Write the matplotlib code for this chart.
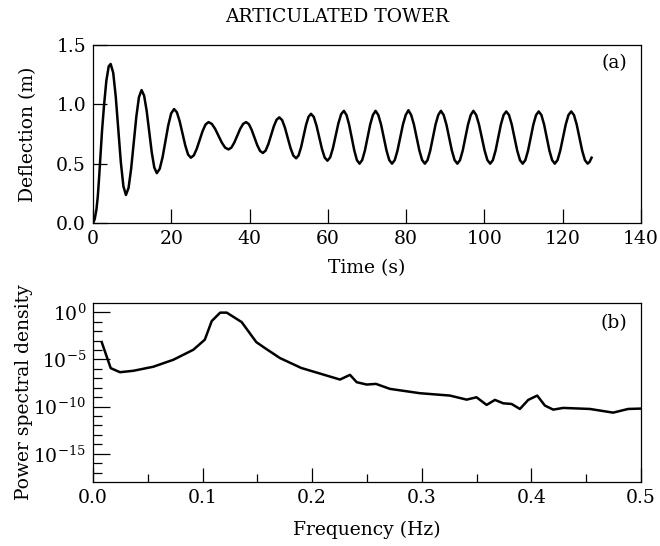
import numpy as np
import matplotlib
matplotlib.use('Agg')
import matplotlib.pyplot as plt

plt.rcParams['font.family'] = 'serif'
plt.rcParams['font.serif'] = ['DejaVu Serif']
plt.rcParams['mathtext.fontset'] = 'dejavuserif'

# (a) deflection time history
time_s = [
    0, 0.4, 0.85, 1.2, 1.5, 1.8, 2.3, 2.8, 3.4, 4.0,
    4.5, 5.15, 5.8, 6.45, 7.1, 7.75,
    8.4, 9.07, 9.73, 10.4, 11.07, 11.73,
    12.4, 13.05, 13.7, 14.35, 15.0, 15.65,
    16.3, 17.03, 17.77, 18.5, 19.23, 19.97,
    20.7, 21.42, 22.13, 22.85, 23.57, 24.28,
    25.0, 25.75, 26.5, 27.25, 28.0, 28.75,
    29.5, 30.35, 31.2, 32.05, 32.9, 33.75,
    34.6, 35.35, 36.1, 36.85, 37.6, 38.35,
    39.1, 39.82, 40.53, 41.25, 41.97, 42.68,
    43.4, 44.1, 44.8, 45.5, 46.2, 46.9,
    47.6, 48.32, 49.03, 49.75, 50.47, 51.18,
    51.9, 52.53, 53.17, 53.8, 54.43, 55.07,
    55.7, 56.4, 57.1, 57.8, 58.5, 59.2,
    59.9, 60.6, 61.3, 62.0, 62.7, 63.4,
    64.1, 64.77, 65.43, 66.1, 66.77, 67.43,
    68.1, 68.78, 69.47, 70.15, 70.83, 71.52,
    72.2, 72.9, 73.6, 74.3, 75.0, 75.7,
    76.4, 77.1, 77.8, 78.5, 79.2, 79.9,
    80.6, 81.3, 82.0, 82.7, 83.4, 84.1,
    84.8, 85.48, 86.17, 86.85, 87.53, 88.22,
    88.9, 89.6, 90.3, 91.0, 91.7, 92.4,
    93.1, 93.78, 94.47, 95.15, 95.83, 96.52,
    97.2, 97.92, 98.63, 99.35, 100.07, 100.78,
    101.5, 102.18, 102.87, 103.55, 104.23, 104.92,
    105.6, 106.3, 107.0, 107.7, 108.4, 109.1,
    109.8, 110.48, 111.17, 111.85, 112.53, 113.22,
    113.9, 114.58, 115.27, 115.95, 116.63, 117.32,
    118.0, 118.7, 119.4, 120.1, 120.8, 121.5,
    122.2, 122.9, 123.6, 124.3, 125.0, 125.7,
    126.4, 126.9, 127.4]

deflection = [
    0.0, 0.03, 0.11, 0.22, 0.36, 0.52, 0.78, 0.99, 1.2, 1.32,
    1.34, 1.266, 1.064, 0.788, 0.512, 0.31,
    0.236, 0.295, 0.457, 0.678, 0.899, 1.061,
    1.12, 1.073, 0.945, 0.77, 0.595, 0.467,
    0.42, 0.456, 0.555, 0.69, 0.825, 0.924,
    0.96, 0.933, 0.858, 0.755, 0.653, 0.577,
    0.55, 0.57, 0.625, 0.70, 0.775, 0.83,
    0.85, 0.835, 0.793, 0.735, 0.678, 0.635,
    0.62, 0.635, 0.678, 0.735, 0.793, 0.835,
    0.85, 0.833, 0.785, 0.72, 0.655, 0.607,
    0.59, 0.61, 0.665, 0.74, 0.815, 0.87,
    0.89, 0.867, 0.804, 0.718, 0.631, 0.568,
    0.545, 0.57, 0.639, 0.733, 0.826, 0.895,
    0.92, 0.894, 0.821, 0.723, 0.624, 0.551,
    0.525, 0.553, 0.63, 0.735, 0.84, 0.917,
    0.945, 0.91, 0.83, 0.72, 0.61, 0.53,
    0.50, 0.53, 0.61, 0.72, 0.83, 0.91,
    0.945, 0.91, 0.83, 0.72, 0.61, 0.53,
    0.50, 0.53, 0.61, 0.72, 0.83, 0.91,
    0.95, 0.91, 0.83, 0.72, 0.61, 0.53,
    0.50, 0.53, 0.61, 0.72, 0.83, 0.91,
    0.945, 0.91, 0.83, 0.72, 0.61, 0.53,
    0.50, 0.53, 0.61, 0.72, 0.83, 0.91,
    0.945, 0.91, 0.83, 0.72, 0.61, 0.53,
    0.50, 0.53, 0.61, 0.72, 0.83, 0.91,
    0.94, 0.91, 0.83, 0.72, 0.61, 0.53,
    0.50, 0.53, 0.61, 0.72, 0.83, 0.91,
    0.94, 0.91, 0.83, 0.72, 0.61, 0.53,
    0.50, 0.53, 0.61, 0.72, 0.83, 0.91,
    0.94, 0.91, 0.83, 0.72, 0.61, 0.53,
    0.50, 0.515, 0.55]

# (b) power spectral density, stored as log10 values
freq_hz = [0.0079, 0.0161, 0.0246, 0.0368, 0.055, 0.0733, 0.0915, 0.102,
           0.1083, 0.116, 0.122, 0.1356, 0.149, 0.157, 0.1706, 0.19,
           0.2254, 0.2345, 0.2406, 0.2497, 0.2582, 0.271, 0.2984, 0.3257,
           0.341, 0.35, 0.3592, 0.3668, 0.3744, 0.382, 0.3896, 0.3972,
           0.4054, 0.4124, 0.42, 0.4291, 0.4535, 0.4747, 0.4884, 0.5]
log_psd = [-3.16, -5.92, -6.35, -6.2, -5.77, -5.03, -3.97, -2.9,
           -0.93, -0.03, -0.03, -1.03, -3.16, -3.8, -4.85, -5.9,
           -7.13, -6.63, -7.41, -7.66, -7.59, -8.12, -8.58, -8.83,
           -9.26, -9.01, -9.82, -9.29, -9.65, -9.72, -10.25, -9.29,
           -8.83, -9.89, -10.32, -10.14, -10.25, -10.64, -10.25, -10.21]

time_ticks = [0, 20, 40, 60, 80, 100, 120, 140]
defl_ticks = [0.0, 0.5, 1.0, 1.5]
freq_ticks = [0.0, 0.1, 0.2, 0.3, 0.4, 0.5]
psd_major_exp = [0, -5, -10, -15]

fig = plt.figure(figsize=(6.6, 5.46), dpi=100)
ax1 = fig.add_axes([0.141, 0.5916, 0.830, 0.326])
ax2 = fig.add_axes([0.141, 0.1172, 0.830, 0.328])

fs = 13.5
fig.text(0.511, 0.968, 'ARTICULATED TOWER', ha='center', va='center', fontsize=13.5)

ax1.plot(time_s, deflection, color='black', lw=1.8)
ax1.set_xlim(0, 140)
ax1.set_ylim(0, 1.5)
ax1.set_xticks(time_ticks)
ax1.set_yticks(defl_ticks)
ax1.set_yticklabels(['%.1f' % v for v in defl_ticks])
ax1.set_xlabel('Time (s)', fontsize=fs, labelpad=8)
ax1.set_ylabel('Deflection (m)', fontsize=fs, labelpad=14)
ax1.text(0.975, 0.9, '(a)', transform=ax1.transAxes, ha='right', va='center', fontsize=fs)

ax2.plot(freq_hz, 10.0 ** np.array(log_psd), color='black', lw=1.8)
ax2.set_yscale('log')
ax2.set_xlim(0, 0.5)
ax2.set_ylim(1e-18, 1e1)
ax2.set_xticks(freq_ticks)
ax2.set_xticks([0.05, 0.15, 0.25, 0.35, 0.45], minor=True)
ax2.set_xticklabels(['%.1f' % v for v in freq_ticks])
ax2.set_yticks([10.0 ** e for e in psd_major_exp])
ax2.set_yticklabels(['$10^{%d}$' % e for e in psd_major_exp])
ax2.set_yticks([10.0 ** e for e in range(-17, 1) if e not in psd_major_exp], minor=True)
ax2.yaxis.set_minor_formatter(matplotlib.ticker.NullFormatter())
ax2.set_xlabel('Frequency (Hz)', fontsize=fs, labelpad=10)
ax2.set_ylabel('Power spectral density', fontsize=fs, labelpad=0)
ax2.text(0.975, 0.885, '(b)', transform=ax2.transAxes, ha='right', va='center', fontsize=fs)

for ax in (ax1, ax2):
    for sp in ax.spines.values():
        sp.set_linewidth(0.9)
    ax.tick_params(which='major', direction='in', length=10, width=0.9,
                   labelsize=fs, pad=5)
    ax.tick_params(which='minor', direction='in', length=6, width=0.9)
ax2.tick_params(axis='y', which='major', length=12)
ax2.tick_params(axis='y', which='minor', length=6.5)

fig.savefig('out.png', dpi=100)
